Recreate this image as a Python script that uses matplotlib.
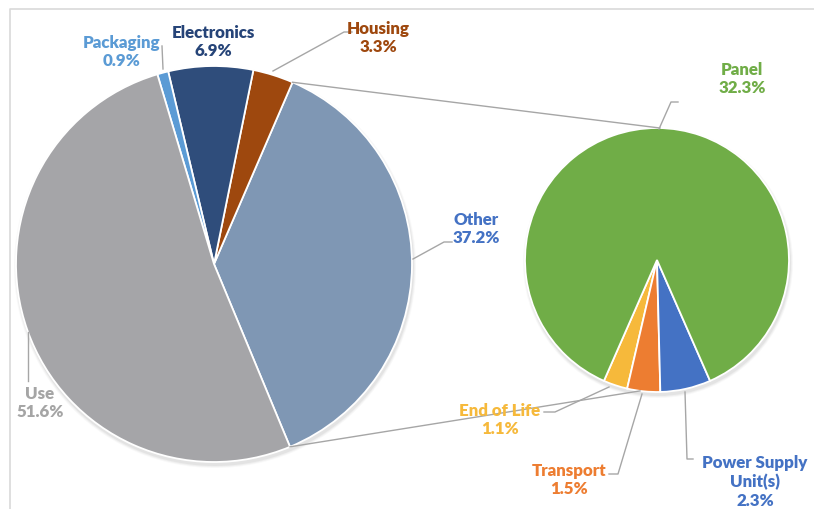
import matplotlib
matplotlib.use("Agg")
import matplotlib.pyplot as plt
import numpy as np
from matplotlib.patches import Circle

# ---- data ----
main_labels = ["Other", "Housing", "Electronics", "Packaging", "Use"]
main_values = [37.2, 3.3, 6.9, 0.9, 51.6]
sub_labels = ["End of Life", "Transport", "Power Supply\nUnit(s)", "Panel"]
sub_values = [1.1, 1.5, 2.3, 32.3]

main_colors = ["#7F97B4", "#9E480E", "#2F4D7B", "#5B9BD5", "#A5A5A8"]
main_text_colors = ["#4472C4", "#9E480E", "#264478", "#5B9BD5", "#A5A5A5"]
sub_colors = ["#F6B93B", "#ED7D31", "#4472C4", "#70AD47"]
sub_text_colors = ["#F6B93B", "#ED7D31", "#4472C4", "#70AD47"]

W, H = 814, 510
fig = plt.figure(figsize=(W / 100, H / 100), dpi=100)
ax = fig.add_axes([0, 0, 1, 1])
ax.set_xlim(0, W)
ax.set_ylim(0, H)
ax.set_aspect("equal")
ax.axis("off")

def Y(y):
    return H - y

FONT = "Lato"

# frame
ax.plot([10, 10, W], [Y(H), Y(10), Y(10)], color="#D9D9D9", lw=1.2, zorder=0)

# geometry
mc = (214, Y(265)); mr = 198
sc = (657, Y(261)); sr = 132

# shadows
for k, a in [(6, 0.05), (4, 0.07), (2, 0.10)]:
    ax.add_patch(Circle((mc[0] + 1, mc[1] - 3), mr + k * 0.5, color="gray", alpha=a, lw=0, zorder=1))
    ax.add_patch(Circle((sc[0] + 1, sc[1] - 3), sr + k * 0.5, color="gray", alpha=a, lw=0, zorder=1))

other_angle = main_values[0] / sum(main_values) * 360
start_main = -other_angle / 2 - 0.4
ax.pie(main_values, colors=main_colors, startangle=start_main, counterclock=True,
       center=mc, radius=mr, frame=True,
       wedgeprops=dict(edgecolor="white", linewidth=1.3, zorder=2))

small_angle = sum(sub_values[:3]) / sum(sub_values) * 360
start_sub = -90 - small_angle / 2
ax.pie(sub_values, colors=sub_colors, startangle=start_sub, counterclock=True,
       center=sc, radius=sr, frame=True,
       wedgeprops=dict(edgecolor="white", linewidth=1.3, zorder=2))
ax.set_xlim(0, W)
ax.set_ylim(0, H)
ax.axis("off")

# connector lines
a1 = np.deg2rad(start_main + other_angle)
a2 = np.deg2rad(start_main)
b1 = np.deg2rad(88.7)
b2 = np.deg2rad(-97.4)
lc = "#A6A6A6"
ax.plot([mc[0] + mr * np.cos(a1), sc[0] + sr * np.cos(b1)],
        [mc[1] + mr * np.sin(a1), sc[1] + sr * np.sin(b1)], color=lc, lw=1, zorder=3)
ax.plot([mc[0] + mr * np.cos(a2), sc[0] + sr * np.cos(b2)],
        [mc[1] + mr * np.sin(a2), sc[1] + sr * np.sin(b2)], color=lc, lw=1, zorder=3)

# leader lines (image pixel coords)
leaders = [
    [(163, 70), (162, 47)],
    [(273, 72), (344, 33), (352, 33)],
    [(413, 260), (444, 243), (452, 243)],
    [(28, 333), (28, 382)],
    [(659, 130), (671, 103), (678, 103)],
    [(609, 388), (555, 413), (544, 413)],
    [(642, 395), (618, 475), (609, 475)],
    [(685, 393), (687, 460), (693, 460)],
]
for pts in leaders:
    xs = [p[0] for p in pts]
    ys = [Y(p[1]) for p in pts]
    ax.plot(xs, ys, color=lc, lw=1, zorder=3)

def pct(v):
    return f"{v:.1f}%"

# label positions (center of text block)
main_pos = {"Other": (476, 229), "Housing": (378, 38), "Electronics": (213, 42),
            "Packaging": (122, 52), "Use": (40, 403)}
for lab, v, c in zip(main_labels, main_values, main_text_colors):
    x, y = main_pos[lab]
    ax.text(x, Y(y), f"{lab}\n{pct(v)}", ha="center", va="center", color=c,
            fontsize=12.2, fontweight="heavy", family=FONT, linespacing=1.2, zorder=4)

sub_pos = {"End of Life": (500, 420), "Transport": (569, 480),
           "Power Supply\nUnit(s)": (755, 482), "Panel": (742, 79)}
for lab, v, c in zip(sub_labels, sub_values, sub_text_colors):
    x, y = sub_pos[lab]
    ax.text(x, Y(y), f"{lab}\n{pct(v)}", ha="center", va="center", color=c,
            fontsize=12.2, fontweight="heavy", family=FONT, linespacing=1.2, zorder=4)

fig.savefig("out.png", dpi=100)
